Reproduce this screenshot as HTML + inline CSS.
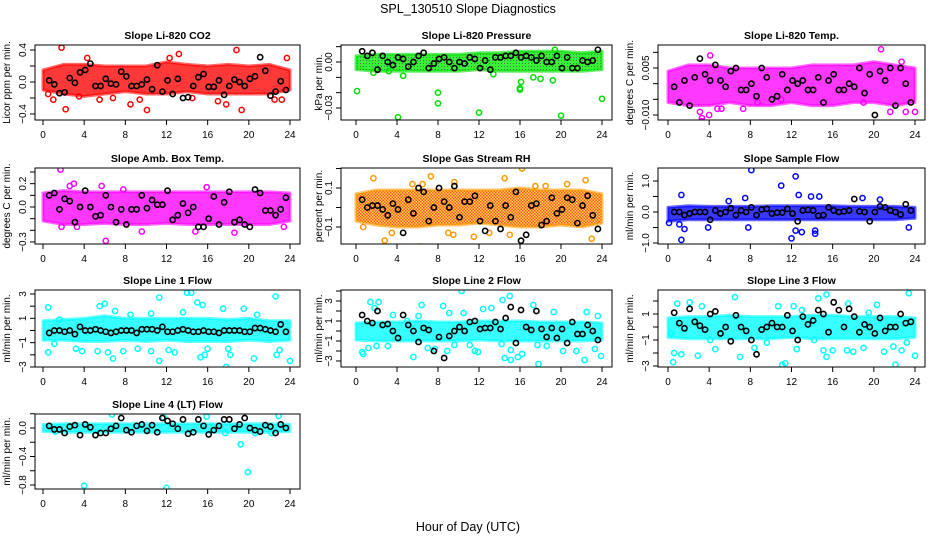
<!DOCTYPE html>
<html><head><meta charset="utf-8"><style>
html,body{margin:0;padding:0;background:#fff;}
svg{display:block;font-family:"Liberation Sans",Arial,sans-serif;}
</style></head><body>
<svg id="chart" width="936" height="540" viewBox="0 0 936 540">
<defs>
<pattern id="rhpat" width="3" height="3" patternUnits="userSpaceOnUse"><rect width="3" height="3" fill="#ffcc00"/><rect width="1.5" height="1.5" fill="#ff2200"/><rect x="1.5" y="1.5" width="1.5" height="1.5" fill="#ff2200"/></pattern>
<pattern id="grpat" width="3" height="3" patternUnits="userSpaceOnUse"><rect width="3" height="3" fill="#00ee00"/><rect width="1" height="1" fill="#115511"/></pattern>
</defs>
<text x="468" y="13" text-anchor="middle" font-size="12.5">SPL_130510  Slope Diagnostics</text>
<text x="468" y="531" text-anchor="middle" font-size="12.5">Hour of Day (UTC)</text>
</svg>
<script>
// shared hour grids
const bandHours = [0,2,4,6,8,10,12,14,16,18,20,22,24];
const blackHours = [0.6,1.1,1.6,2.1,2.6,3.1,3.6,4.1,4.6,5.1,5.6,6.1,6.6,7.1,7.6,8.1,8.6,9.1,9.6,10.1,10.6,11.1,11.6,12.1,12.6,13.1,13.6,14.1,14.6,15.1,15.6,16.1,16.6,17.1,17.6,18.1,18.6,19.1,19.6,20.1,20.6,21.1,21.6,22.1,22.6,23.1,23.6];
const xTicks = [0,4,8,12,16,20,24];

// CO2
const co2Lo = [-0.1,-0.15,-0.18,-0.15,-0.12,-0.15,-0.15,-0.12,-0.15,-0.15,-0.15,-0.15,-0.1];
const co2Hi = [0.15,0.22,0.22,0.2,0.2,0.2,0.25,0.22,0.2,0.22,0.2,0.22,0.15];
const co2OutX = [1.8,0.5,1,2.2,4.3,5.5,8.5,10.1,12.3,13.2,18.8,19.3,23.7,17,17.8,3.5,6.8,9.4,22.5,23.2,14.5];
const co2OutY = [0.43,-0.15,-0.22,-0.34,0.3,-0.22,-0.28,-0.35,0.3,0.35,0.4,-0.35,0.3,-0.24,-0.28,-0.18,-0.2,-0.22,-0.22,-0.22,-0.2];
const co2Black = [0.02,-0.03,-0.14,-0.13,0.05,-0.01,0.12,0.15,0.23,-0.05,-0.05,0.04,-0.02,-0.03,0.13,0.07,-0.05,-0.05,-0.03,0.03,-0.09,0.21,-0.12,0.02,-0.15,0.04,-0.2,-0.19,-0.05,0.06,0.1,-0.06,-0.06,0.02,-0.16,-0.05,0.03,0.0,-0.05,0.04,0.07,0.31,0.14,-0.17,-0.12,0.01,-0.1];
// Pressure
const presLo = [-0.005,-0.006,-0.006,-0.006,-0.006,-0.006,-0.005,-0.006,-0.006,-0.006,-0.006,-0.006,-0.005];
const presHi = [0.004,0.005,0.005,0.005,0.005,0.005,0.006,0.006,0.007,0.007,0.007,0.006,0.007];
const presOutX = [0.1,4.1,8,8,12,16,16,16.1,20,24,4.6,1.7,17.3,19.2,18,3.2,13.4,19.4];
const presOutY = [-0.019,-0.036,-0.020,-0.027,-0.033,-0.017,-0.018,-0.013,-0.035,-0.024,-0.009,-0.007,-0.010,-0.012,-0.011,-0.006,-0.008,0.008];
const presBlack = [0.007,0.004,0.006,-0.005,0.004,0.0,-0.002,0.003,0.002,-0.003,0.0,0.004,0.006,-0.004,-0.001,0.002,0.003,0.0,-0.004,0.0,-0.001,0.003,0.002,-0.004,0.001,-0.005,0.003,0.003,0.004,0.004,0.006,0.003,0.004,0.003,0.001,0.004,0.0,0.0,0.004,-0.004,0.003,-0.004,-0.004,0.001,0.0,0.001,0.008];
// Li-820 Temp
const ltLo = [-0.006,-0.007,-0.007,-0.006,-0.007,-0.007,-0.006,-0.007,-0.007,-0.006,-0.006,-0.007,-0.006];
const ltHi = [0.004,0.006,0.006,0.005,0.005,0.005,0.005,0.006,0.006,0.006,0.007,0.006,0.005];
const ltOutX = [3.3,3.3,4.1,4,3.1,20.7,22.7,5.2,4.8,8.7,7.3,19,21.6,23.1,24,11];
const ltOutY = [-0.011,-0.012,0.009,-0.01,-0.009,0.011,0.007,-0.008,-0.008,-0.006,-0.008,-0.006,-0.009,-0.009,-0.009,-0.005];
const ltBlack = [-0.001,-0.006,0.001,-0.007,0.002,0.008,0.003,0.001,0.006,0.001,-0.001,0.004,0.005,-0.002,-0.002,0.0,-0.004,0.005,0.002,-0.005,-0.004,0.003,-0.002,0.001,0.0,0.001,-0.002,-0.002,0.002,-0.006,0.001,0.003,-0.002,-0.002,0.0,-0.001,0.005,-0.003,0.003,-0.01,0.004,0.001,0.005,-0.007,0.005,0.0,-0.006];
// Amb box temp
const abLo = [-0.12,-0.15,-0.15,-0.14,-0.15,-0.15,-0.14,-0.15,-0.15,-0.15,-0.15,-0.15,-0.12];
const abHi = [0.12,0.14,0.13,0.13,0.13,0.13,0.13,0.13,0.13,0.13,0.13,0.13,0.12];
const abOutX = [1.7,1.8,6.1,9.6,14.8,18.6,5.7,15.9,2.6,3,7.8,23.4,3.3];
const abOutY = [0.32,-0.17,-0.29,-0.21,-0.21,-0.22,0.18,0.17,0.18,0.2,0.15,-0.17,-0.17];
const abBlack = [0.1,0.12,-0.02,0.07,0.05,-0.13,0.0,0.14,0.0,-0.08,-0.07,0.1,0.0,-0.13,-0.02,-0.15,-0.02,-0.02,0.1,-0.01,0.06,0.02,0.02,0.14,-0.11,-0.07,0.03,-0.05,0.0,-0.17,-0.17,-0.1,0.09,-0.15,0.04,0.13,-0.13,-0.11,-0.15,-0.17,0.15,0.12,-0.03,-0.03,-0.07,-0.02,0.08];
// Gas stream RH
const rhLo = [-0.07,-0.09,-0.1,-0.1,-0.09,-0.09,-0.08,-0.09,-0.1,-0.1,-0.09,-0.1,-0.08];
const rhHi = [0.07,0.09,0.09,0.09,0.09,0.09,0.09,0.09,0.1,0.09,0.09,0.09,0.07];
const rhOutX = [1.7,6.2,5.5,7.3,14.5,16.2,22.4,11.5,0.7,2.8,3.5,9,9.5,17.5,18.5,20.6,23,6.5,9.6,13,15];
const rhOutY = [0.15,-0.2,0.12,0.16,0.15,0.2,0.14,-0.15,-0.1,-0.17,-0.13,-0.13,-0.14,0.11,0.11,0.12,-0.16,0.12,0.13,-0.13,-0.14];
const rhBlack = [0.04,0.0,0.01,0.01,-0.01,-0.04,0.02,-0.01,-0.13,0.04,-0.03,0.1,0.08,-0.07,0.0,0.1,0.03,0.0,0.11,-0.05,0.03,0.03,0.06,-0.07,-0.12,0.01,-0.07,-0.11,0.01,-0.05,0.08,-0.17,-0.14,0.01,0.02,-0.09,-0.07,0.05,-0.03,-0.01,0.05,0.04,-0.08,0.01,0.06,-0.04,-0.11];
// Sample flow
const sfLo = [-0.3,-0.25,-0.25,-0.25,-0.25,-0.25,-0.25,-0.25,-0.25,-0.25,-0.25,-0.25,-0.2];
const sfHi = [0.15,0.2,0.18,0.18,0.18,0.2,0.2,0.2,0.2,0.18,0.18,0.18,0.15];
const sfOutX = [1.3,1.3,1.6,1.1,3.9,7.8,8.1,11,12.4,12.7,12,12.4,13,14.3,14.3,14.7,13.9,18.9,20.6,23.4,5.9,7.5,0.1];
const sfOutY = [0.55,-0.9,-0.55,-0.4,-0.5,-0.5,1.35,0.85,1.15,0.55,-0.85,-0.6,-0.65,-0.6,-0.7,0.5,0.5,0.45,0.4,-0.5,0.35,0.45,-0.35];
const sfBlack = [0.0,0.0,-0.1,-0.05,0.0,0.0,0.0,-0.25,0.05,-0.05,0.0,0.12,-0.1,0.05,0.0,0.15,-0.1,0.08,0.1,-0.05,-0.02,-0.02,0.1,-0.05,-0.3,0.05,0.07,0.05,-0.12,-0.1,0.15,0.05,0.0,0.02,0.05,0.42,0.02,0.0,-0.3,0.0,0.18,0.15,0.05,0.0,-0.08,0.25,0.05];
// Line 1
const l1Lo = [-0.8,-0.8,-0.9,-0.9,-0.8,-0.9,-0.8,-0.9,-0.9,-0.9,-0.8,-0.9,-0.8];
const l1Hi = [0.8,0.9,1.0,1.2,1.0,1.0,1.0,1.0,1.0,0.9,1.0,0.8,0.8];
const l1OutX = [0.5,0.5,3.8,3.2,5.3,6.3,6.8,7.8,9.2,10.5,11.3,11.3,12.2,12.8,14,14.4,15.0,15.3,15.7,16,15.5,17.5,17.8,18,18.2,19.5,20.5,22.6,22.7,23,24,5.5,6,7,10.5,13.6,1.1,1.6,8.5,20.8];
const l1OutY = [1.9,-1.8,-1.7,-1.5,-1.7,-1.8,-2.3,-1.7,-1.5,-1.7,-2.5,2.7,-1.6,-1.8,3.1,3.1,2.3,-2.2,-2,-1.5,2.1,1.8,-3.0,-1.5,-2,1.8,-2.3,2.8,-2.0,-1.6,-2.5,2.0,2.2,1.6,1.4,1.5,-1.1,0.9,1.3,1.3];
const l1Black = [-0.2,0.0,0.0,-0.1,0.0,-0.3,0.3,0.0,0.0,0.1,0.0,-0.1,-0.2,-0.1,0.0,0.0,0.0,-0.2,0.1,0.1,0.1,0.0,0.3,-0.1,-0.1,0.0,0.1,0.0,-0.1,-0.1,0.0,-0.1,-0.1,-0.2,0.0,0.0,0.0,0.0,-0.1,-0.1,0.2,0.2,0.1,0.0,-0.1,0.5,-0.1];
// Line 2
const l2Lo = [-0.9,-1.0,-1.0,-1.0,-1.0,-1.0,-0.9,-1.0,-1.0,-1.0,-1.0,-1.0,-0.9];
const l2Hi = [0.8,0.9,0.9,1.0,0.9,0.9,1.0,1.0,1.0,0.9,0.9,0.9,0.8];
const l2OutX = [0.6,0.7,1.2,1.4,2.0,2.2,1.8,3.1,5.6,6.4,7.0,7.7,8.5,8.9,9.6,10.3,10.5,11.1,11.6,11.9,12.4,13.2,14.2,14.3,14.5,15.0,15.1,15.1,15.8,16.2,17.3,17.7,17.8,18.6,19.3,20.2,21.5,22.3,22.5,23.3,23.9,23.6,5.0,3.6,6.1,9.1];
const l2OutY = [-2.1,-2.3,-1.7,2.9,-1.5,2.9,2.3,-1.5,-2.6,2.6,-1.7,-1.8,2.5,-2.0,-1.4,4.0,1.8,-1.4,-2.0,-2.1,2.2,2.3,-1.3,3.1,-2.7,3.5,-1.9,-2.9,-2.6,-2.3,2.6,-1.4,-3.3,-1.5,1.9,-2.0,-2.0,-2.9,1.9,-1.8,-2.5,1.5,1.0,1.6,1.5,1.8];
const l2Black = [1.6,1.0,0.8,2.0,0.6,0.7,0.0,-0.7,1.6,0.6,0.0,-1.1,0.3,0.1,-2.0,-0.6,-2.7,-0.5,0.0,0.4,0.0,0.9,1.0,0.2,0.3,0.3,0.9,0.2,1.3,2.4,-1.2,2.1,0.4,0.1,2.0,0.2,-0.6,0.3,-0.7,0.2,-1.2,0.9,-0.3,-0.3,0.6,0.0,-0.9];
// Line 3
const l3Lo = [-0.8,-0.9,-0.9,-0.9,-0.9,-0.9,-0.8,-0.9,-0.9,-0.9,-0.9,-0.9,-0.8];
const l3Hi = [0.7,0.8,0.8,0.9,0.8,0.8,0.8,0.9,0.9,0.8,0.8,0.8,0.7];
const l3OutX = [0.5,0.6,1.3,0.9,2.1,2.9,3.3,4.1,4.6,6.5,7.0,8.4,9.6,10.7,11.1,11.4,12.2,12.5,14.2,14.6,15.1,15.4,15.4,16.0,17.4,17.5,18.0,19.0,20.3,21.0,22.1,22.7,23.2,23.4,24.0,0.3,13.0,19.5,21.9];
const l3OutY = [-2.7,-2.0,-2.1,1.8,1.9,-2.2,1.6,-1.0,-1.7,2.3,-2.3,-1.6,-1.2,1.6,-2.9,-2.8,1.6,-1.7,-1.0,2.2,-1.8,2.5,-2.3,-1.8,-1.8,1.8,-1.9,-1.6,1.7,-1.9,-2.9,-1.8,-1.2,2.6,-2.2,-0.5,1.3,1.1,-1.5];
const l3Black = [1.1,0.3,-0.1,1.4,0.4,0.1,-0.2,1.0,1.2,-0.5,0.0,-1.1,0.9,0.0,-0.3,-1.0,-2.1,-0.2,0.0,0.3,0.0,0.0,0.9,-0.3,-1.0,0.8,0.2,0.5,1.3,1.0,-0.4,1.9,1.3,0.0,1.4,0.8,-0.4,0.2,0.0,-0.5,0.7,-0.3,0.0,0.0,1.0,0.3,0.4];
// Line 4
const l4Lo = [-0.05,-0.06,-0.06,-0.06,-0.06,-0.06,-0.06,-0.06,-0.06,-0.06,-0.06,-0.06,-0.05];
const l4Hi = [0.05,0.06,0.06,0.06,0.06,0.06,0.06,0.06,0.06,0.06,0.06,0.06,0.05];
const l4OutX = [4,12,19.9,19.2,6.7,11.7,15.9,22.9,1.2,17.7,20.6,22.2];
const l4OutY = [-0.81,-0.84,-0.62,-0.23,0.19,0.15,0.16,0.17,-0.05,-0.07,-0.07,-0.07];
const l4Black = [0.03,-0.02,-0.02,-0.07,0.02,0.04,-0.1,0.05,0.01,-0.1,-0.07,-0.07,-0.01,0.03,0.14,-0.03,-0.06,0.03,0.05,-0.04,0.04,-0.06,0.14,0.1,0.06,-0.01,0.12,-0.08,-0.06,0.12,0.03,-0.09,-0.03,0.03,0.12,0.12,-0.01,0.05,0.14,0.0,-0.03,-0.05,0.04,0.02,-0.07,0.05,0.0];

const NS = "http://www.w3.org/2000/svg";
const svg = document.getElementById('chart');
function mk(tag, attrs, parent){ const e=document.createElementNS(NS,tag); for(const k in attrs) e.setAttribute(k,attrs[k]); (parent||svg).appendChild(e); return e; }

const cols = [{l:35,r:300,x0:43,x24:290,yl:10},{l:341,r:612,x0:356,x24:602,yl:322},{l:658,r:925,x0:668,x24:915,yl:633}];
const rows = [{t:45,b:120},{t:168,b:244},{t:290,b:367},{t:414,b:489}];

const panels = [
 {key:'co2',title:'Slope Li-820 CO2',ylab:'Licor ppm per min.',c:0,r:0,a:0.4,ap:50,b:-0.4,bp:114,ticks:[0.4,0.2,0,-0.2,-0.4],labs:{'0.4':'0.4','0':'0.0','-0.4':'−0.4'},color:'#ff0000',fill:'#ff0000',lo:co2Lo,hi:co2Hi,ox:co2OutX,oy:co2OutY,bk:co2Black},
 {key:'pressure',title:'Slope Li-820 Pressure',ylab:'kPa per min.',c:1,r:0,a:0,ap:62,b:-0.03,bp:108,ticks:[0.01,0,-0.01,-0.02,-0.03],labs:{'0':'0.00','-0.03':'−0.03'},color:'#00dd00',fill:'url(#grpat)',lo:presLo,hi:presHi,ox:presOutX,oy:presOutY,bk:presBlack},
 {key:'li820-temp',title:'Slope Li-820 Temp.',ylab:'degrees C per min.',c:2,r:0,a:0.005,ap:68,b:-0.010,bp:115,ticks:[0.010,0.005,0,-0.005,-0.010],labs:{'0.005':'0.005','-0.01':'−0.010'},color:'#ff00ff',fill:'#ff00ff',lo:ltLo,hi:ltHi,ox:ltOutX,oy:ltOutY,bk:ltBlack},
 {key:'amb-box-temp',title:'Slope Amb. Box Temp.',ylab:'degrees C per min.',c:0,r:1,a:0,ap:207,b:-0.3,bp:242,ticks:[0.3,0.2,0.1,0,-0.1,-0.2,-0.3],labs:{'0.2':'0.2','0':'0.0','-0.3':'−0.3'},color:'#ff00ff',fill:'#ff00ff',lo:abLo,hi:abHi,ox:abOutX,oy:abOutY,bk:abBlack},
 {key:'gas-stream-rh',title:'Slope Gas Stream RH',ylab:'percent per min.',c:1,r:1,a:0.1,ap:188,b:-0.1,bp:227,ticks:[0.2,0.1,0,-0.1],labs:{'0.1':'0.1','-0.1':'−0.1'},color:'#ff9900',fill:'url(#rhpat)',lo:rhLo,hi:rhHi,ox:rhOutX,oy:rhOutY,bk:rhBlack},
 {key:'sample-flow',title:'Slope Sample Flow',ylab:'ml/min per min.',c:2,r:1,a:1,ap:181,b:-1,bp:243,ticks:[1,0.5,0,-0.5,-1],labs:{'1':'1.0','0':'0.0','-1':'−1.0'},color:'#0000ff',fill:'#0000ff',lo:sfLo,hi:sfHi,ox:sfOutX,oy:sfOutY,bk:sfBlack},
 {key:'line1-flow',title:'Slope Line 1 Flow',ylab:'ml/min per min.',c:0,r:2,a:3,ap:294,b:-3,bp:367,ticks:[3,2,1,0,-1,-2,-3],labs:{'3':'3','1':'1','-1':'−1','-3':'−3'},color:'#00ffff',fill:'#00ffff',lo:l1Lo,hi:l1Hi,ox:l1OutX,oy:l1OutY,bk:l1Black},
 {key:'line2-flow',title:'Slope Line 2 Flow',ylab:'ml/min per min.',c:1,r:2,a:3,ap:301,b:-3,bp:361,ticks:[4,3,2,1,0,-1,-2,-3],labs:{'3':'3','1':'1','-1':'−1','-3':'−3'},color:'#00ffff',fill:'#00ffff',lo:l2Lo,hi:l2Hi,ox:l2OutX,oy:l2OutY,bk:l2Black},
 {key:'line3-flow',title:'Slope Line 3 Flow',ylab:'ml/min per min.',c:2,r:2,a:1,ap:314,b:-3,bp:366,ticks:[2,1,0,-1,-2,-3],labs:{'1':'1','-1':'−1','-3':'−3'},color:'#00ffff',fill:'#00ffff',lo:l3Lo,hi:l3Hi,ox:l3OutX,oy:l3OutY,bk:l3Black},
 {key:'line4-flow',title:'Slope Line 4 (LT) Flow',ylab:'ml/min per min.',c:0,r:3,a:0,ap:428,b:-0.8,bp:485,ticks:[0.2,0,-0.2,-0.4,-0.6,-0.8],labs:{'0':'0.0','-0.4':'−0.4','-0.8':'−0.8'},color:'#00ffff',fill:'#00ffff',lo:l4Lo,hi:l4Hi,ox:l4OutX,oy:l4OutY,bk:l4Black}
];

panels.forEach(p=>{
  const C=cols[p.c], R=rows[p.r];
  const xs = h => C.x0 + (C.x24-C.x0)*h/24;
  const ys = v => p.ap + (v-p.a)*(p.bp-p.ap)/(p.b-p.a);
  const g = mk('g',{});
  
  
  const clipId='clip-'+p.key;
  const cp=mk('clipPath',{id:clipId},g); mk('rect',{x:C.l,y:R.t,width:C.r-C.l,height:R.b-R.t},cp);
  const plot=mk('g',{'clip-path':'url(#'+clipId+')'},g);
  let pts=[]; bandHours.forEach((h,i)=>pts.push(xs(h)+','+ys(p.hi[i])));
  for(let i=bandHours.length-1;i>=0;i--) pts.push(xs(bandHours[i])+','+ys(p.lo[i]));
  const band=mk('polygon',{points:pts.join(' '),fill:p.fill,'fill-opacity':0.78,stroke:p.color,'stroke-opacity':0.6,'stroke-width':3,'stroke-linejoin':'round'},plot);
  
  
  p.ox.forEach((h,i)=>{
    const c=mk('circle',{cx:xs(h),cy:ys(p.oy[i]),r:2.6,fill:'none',stroke:p.color,'stroke-width':1.5},plot);
    
    
  });
  blackHours.forEach((h,i)=>{
    const c=mk('circle',{cx:xs(h),cy:ys(p.bk[i]),r:2.6,fill:'none',stroke:'#000','stroke-width':1.6},plot);
    
    
  });
  mk('rect',{x:C.l,y:R.t,width:C.r-C.l,height:R.b-R.t,fill:'none',stroke:'#000','stroke-width':1},g);
  const t=mk('text',{x:(C.l+C.r)/2,y:R.t-6,'text-anchor':'middle','font-size':10.5,'font-weight':'bold'},g);
  t.textContent=p.title;
  
  
  p.ticks.forEach(v=>{
    const y=ys(v);
    mk('line',{x1:C.l-5,x2:C.l,y1:y,y2:y,stroke:'#000'},g);
    const k=String(Math.round(v*1000)/1000);
    if(p.labs[k]!==undefined){
      const lx=C.l-9;
      const tx=mk('text',{x:lx,y:y,'text-anchor':'middle','font-size':10,transform:'rotate(-90 '+lx+' '+y+')'},g);
      tx.textContent=p.labs[k];
      
      
    }
  });
  xTicks.forEach(h=>{
    const x=xs(h);
    mk('line',{x1:x,x2:x,y1:R.b,y2:R.b+5,stroke:'#000'},g);
    const tx=mk('text',{x:x,y:R.b+18,'text-anchor':'middle','font-size':10},g);
    tx.textContent=String(h);
    
    
  });
  const cy=(R.t+R.b)/2;
  const yl=mk('text',{x:C.yl,y:cy,'text-anchor':'middle','font-size':10,transform:'rotate(-90 '+C.yl+' '+cy+')'},g);
  yl.textContent=p.ylab;
  
  
});
</script>
</body></html>
